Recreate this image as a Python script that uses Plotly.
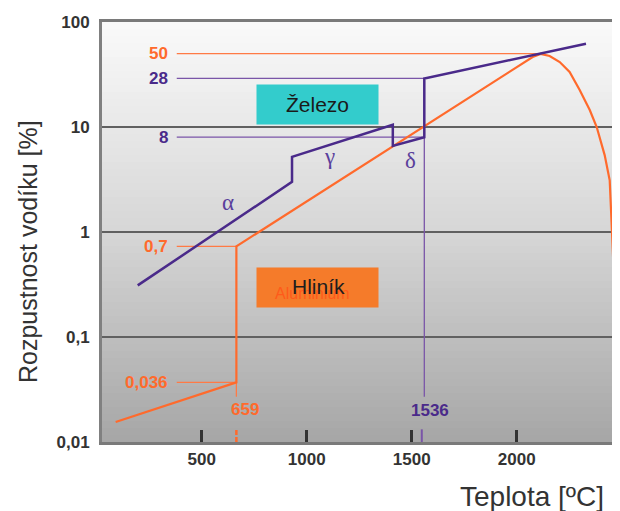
import math
import plotly.graph_objects as go

# ---------------- data ----------------
# Iron (Železo) hydrogen solubility
fe_T = [195, 930, 930, 1410, 1410, 1560, 1560, 2330]
fe_H = [0.31, 3.0, 5.2, 10.5, 6.6, 8.0, 29, 62]

# Aluminium (Hliník) hydrogen solubility
al_T = [90, 665, 665, 2038, 2076, 2114, 2157, 2205, 2252, 2300, 2348, 2381,
        2419, 2443, 2452, 2462, 2476, 2492]
al_H = [0.0155, 0.037, 0.73, 41.6, 46.4, 49.6, 47.4, 41.6, 33.4, 22.5, 14.5,
        10.0, 5.4, 3.1, 1.1, 0.35, 0.1, 0.025]

# guide values
guide_start = 381
al_levels = [50, 0.73, 0.037]
al_level_labels = ["50", "0,7", "0,036"]
al_level_end = [2114, 665, 665]
fe_levels = [29, 8.0]
fe_level_labels = ["28", "8"]
fe_level_end = [1560, 1560]

al_melt = 665
al_melt_label = "659"
fe_melt = 1560
fe_melt_tick = 1548
fe_melt_label = "1536"
melt_line_bottom = 0.027

x_ticks = [500, 1000, 1500, 2000]
y_ticks = [0.01, 0.1, 1, 10, 100]
y_tick_text = ["0,01", "0,1", "1", "10", "100"]

phase_names = ["α", "γ", "δ"]
phase_T = [624, 1110, 1495]
phase_H = [1.9, 5.2, 4.85]

# ---------------- style ----------------
PURPLE = "#4a2a8a"
PURPLE_L = "#7a55a8"
ORANGE = "#ff6a2c"
ORANGE_L = "#ff7a45"
TXT = "#333333"
FONT = "Liberation Sans, Arial, sans-serif"

OFF = 8  # page body margin
W, H = 612, 503
L, T = 102 - OFF, 22 - OFF
R = 0
B = H - (442 - OFF)
PW, PH = W - L - R, H - T - B


def px(x):
    return (x - OFF - L) / PW


def py(y):
    return (H - B - (y - OFF)) / PH


lg = math.log10

fig = go.Figure()

# gradient background bands
n = 60
top = (250, 250, 250)
mid = (214, 214, 214)
bot = (166, 166, 166)
for i in range(n):
    f = (i + 0.5) / n
    if f < 0.5:
        g = f / 0.5
        c = [top[k] + (mid[k] - top[k]) * g for k in range(3)]
    else:
        g = (f - 0.5) / 0.5
        c = [mid[k] + (bot[k] - mid[k]) * g for k in range(3)]
    col = "rgb(%d,%d,%d)" % tuple(int(round(v)) for v in c)
    fig.add_shape(type="rect", xref="x domain", yref="y domain",
                  x0=0, x1=1, y0=1 - (i + 1) / n - 0.001, y1=1 - i / n,
                  fillcolor=col, line_width=0, layer="below")

# guide lines
for v, e in zip(al_levels, al_level_end):
    fig.add_trace(go.Scatter(x=[guide_start, e], y=[v, v], mode="lines",
                             line=dict(color=ORANGE_L, width=1.3),
                             hoverinfo="skip", showlegend=False))
for v, e in zip(fe_levels, fe_level_end):
    fig.add_trace(go.Scatter(x=[guide_start, e], y=[v, v], mode="lines",
                             line=dict(color=PURPLE_L, width=1.3),
                             hoverinfo="skip", showlegend=False))

# melting verticals
fig.add_trace(go.Scatter(x=[al_melt, al_melt], y=[al_levels[2], melt_line_bottom],
                         mode="lines", line=dict(color=ORANGE_L, width=1.3),
                         hoverinfo="skip", showlegend=False))
fig.add_trace(go.Scatter(x=[fe_melt, fe_melt], y=[fe_levels[0], melt_line_bottom],
                         mode="lines", line=dict(color=PURPLE_L, width=1.3),
                         hoverinfo="skip", showlegend=False))
# coloured ticks at bottom
fig.add_trace(go.Scatter(x=[al_melt, al_melt], y=[0.01, 0.0132], mode="lines",
                         line=dict(color=ORANGE, width=2.5, dash="5px,2px"),
                         hoverinfo="skip", showlegend=False))
fig.add_trace(go.Scatter(x=[fe_melt_tick, fe_melt_tick], y=[0.01, 0.0132], mode="lines",
                         line=dict(color=PURPLE_L, width=2),
                         hoverinfo="skip", showlegend=False))

# main curves
fig.add_trace(go.Scatter(x=al_T, y=al_H, mode="lines",
                         line=dict(color=ORANGE, width=2.2),
                         name="Hliník", showlegend=False))
fig.add_trace(go.Scatter(x=fe_T, y=fe_H, mode="lines",
                         line=dict(color=PURPLE, width=2.5),
                         name="Železo", showlegend=False))

# level labels
LBL = 17
for v, t in zip(al_levels, al_level_labels):
    fig.add_annotation(x=350, y=lg(v), text=t, showarrow=False, xanchor="right",
                       font=dict(family=FONT, size=LBL, color=ORANGE, weight="bold"))
for v, t in zip(fe_levels, fe_level_labels):
    fig.add_annotation(x=350, y=lg(v), text=t, showarrow=False, xanchor="right",
                       font=dict(family=FONT, size=LBL, color=PURPLE, weight="bold"))

fig.add_annotation(x=705, y=lg(0.0205), text=al_melt_label, showarrow=False,
                   font=dict(family=FONT, size=LBL, color=ORANGE, weight="bold"))
fig.add_annotation(x=1585, y=lg(0.0198), text=fe_melt_label, showarrow=False,
                   font=dict(family=FONT, size=LBL, color=PURPLE, weight="bold"))

for t, xx, yy in zip(phase_names, phase_T, phase_H):
    fig.add_annotation(x=xx, y=lg(yy), text=t, showarrow=False,
                       font=dict(family="Liberation Serif, serif", size=23, color="#5a3f9c"))


def ann(x, y, text, **kw):
    fig.add_annotation(xref="paper", yref="paper", x=px(x), y=py(y), text=text,
                       showarrow=False, xanchor="center", yanchor="middle", **kw)


# boxes
ann(317.5, 105, "Železo", width=119, height=37, bgcolor="#33cccc",
    font=dict(family=FONT, size=21, color="#1a1a1a"))
ann(317.5, 287, "", width=119, height=37, bgcolor="#f57b2a")
ann(312, 294, "Aluminium", font=dict(family=FONT, size=16, color="#ff5a1a"))
ann(318, 286, "Hliník", font=dict(family=FONT, size=21, color="#1e1e1e"))

# axis titles
ann(28, 252, "Rozpustnost vodíku [%]", textangle=-90,
    font=dict(family=FONT, size=25, color=TXT))
ann(532, 496, "Teplota [ºC]", font=dict(family=FONT, size=28, color=TXT))

fig.update_layout(
    width=W, height=H,
    margin=dict(l=L, r=R, t=T, b=B),
    paper_bgcolor="white",
    plot_bgcolor="#d6d6d6",
    showlegend=False,
    xaxis=dict(range=[25, 2492], tickvals=x_ticks, ticks="inside", ticklen=12,
               tickwidth=3, tickcolor="#333333", showgrid=False, zeroline=False,
               showline=True, linecolor="#7a7a7a", linewidth=3, mirror=True,
               ticklabelstandoff=0,
               tickfont=dict(family=FONT, size=17, color=TXT, weight="bold")),
    yaxis=dict(type="log", range=[-2, 2], tickvals=y_ticks, ticktext=y_tick_text,
               showgrid=True, gridcolor="#606060", gridwidth=2, zeroline=False,
               showline=True, linecolor="#808080", linewidth=3, ticks="",
               ticklabelstandoff=6,
               tickfont=dict(family=FONT, size=17, color=TXT, weight="bold")),
)

fig.write_html("out.html")
